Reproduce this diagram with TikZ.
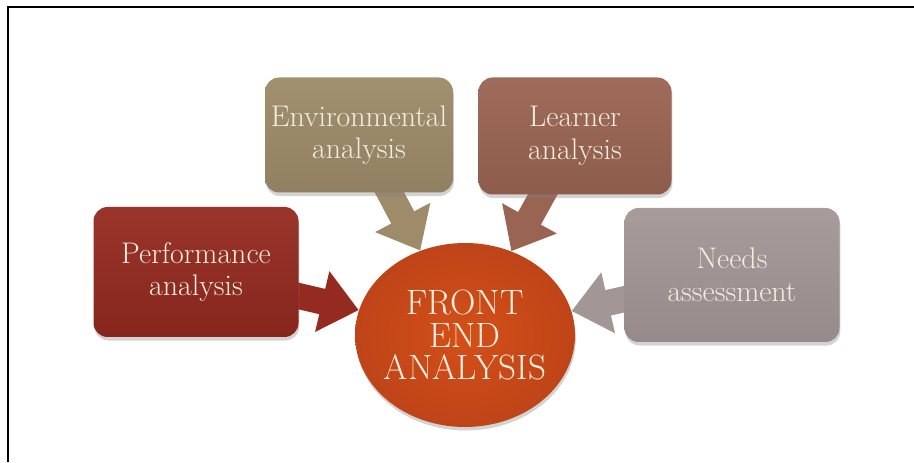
\documentclass[tikz,border=0pt]{standalone}
\usepackage{tikz}
\usetikzlibrary{arrows.meta,shapes.geometric,shadows,backgrounds}
\definecolor{perfred}{HTML}{952A20}
\definecolor{envtan}{HTML}{9D8B69}
\definecolor{learnbrown}{HTML}{9A6452}
\definecolor{needsgrey}{HTML}{A39696}
\definecolor{hubred}{HTML}{CF4A1A}
\definecolor{boxtext}{HTML}{F4EDDF}
\tikzstyle{none}=[]
\tikzstyle{box}=[rectangle, rounded corners=8pt, align=center, text=boxtext,
  font=\fontsize{17}{18.5}\selectfont,
  drop shadow={opacity=0.35, shadow xshift=0.5pt, shadow yshift=-2pt}]
\tikzstyle{hub}=[ellipse, minimum width=4.4cm, minimum height=3.68cm,
  inner xsep=-0.2cm, inner ysep=0pt, text width=3.4cm, align=center,
  text=boxtext, font=\fontsize{20}{18.5}\selectfont, inner color=hubred!90!orange,
  outer color=hubred!92!black,
  drop shadow={opacity=0.35, shadow xshift=0.5pt, shadow yshift=-2pt}]
\tikzstyle{fat}=[line width=0.52cm, -{Triangle[width=1.2cm,length=0.75cm]},
  shorten <=-0.4cm]

\begin{document}
\begin{tikzpicture}
    \useasboundingbox (0, 0) rectangle (18.28, 9.24);
    \draw [line width=1.5pt] (0.16, 0) |- (18.28, 9.10);
    \node [style=hub] (0) at (9.30, 2.54) {FRONT\\END\\ANALYSIS\\[-4pt]};
    \node [style=box, minimum width=4.1cm, minimum height=2.6cm,
      top color=perfred!95!white, bottom color=perfred!90!black] (1) at (3.92, 3.80)
      {Performance\\analysis};
    \node [style=box, minimum width=3.76cm, minimum height=2.3cm,
      top color=envtan!95!white, bottom color=envtan!92!black] (2) at (7.18, 6.54)
      {Environmental\\analysis};
    \node [style=box, minimum width=3.86cm, minimum height=2.34cm,
      top color=learnbrown!95!white, bottom color=learnbrown!92!black] (3) at (11.50, 6.52)
      {Learner\\analysis};
    \node [style=box, minimum width=4.3cm, minimum height=2.68cm,
      top color=needsgrey!95!white, bottom color=needsgrey!92!black] (4) at (14.64, 3.74)
      {Needs\\assessment};
    \begin{pgfonlayer}{background}
        \draw [style=fat, perfred] (1) to (0);
        \draw [style=fat, envtan] (2) to (0);
        \draw [style=fat, learnbrown] (3) to (0);
        \draw [style=fat, needsgrey] (4) to (0);
    \end{pgfonlayer}
\end{tikzpicture}
\end{document}
